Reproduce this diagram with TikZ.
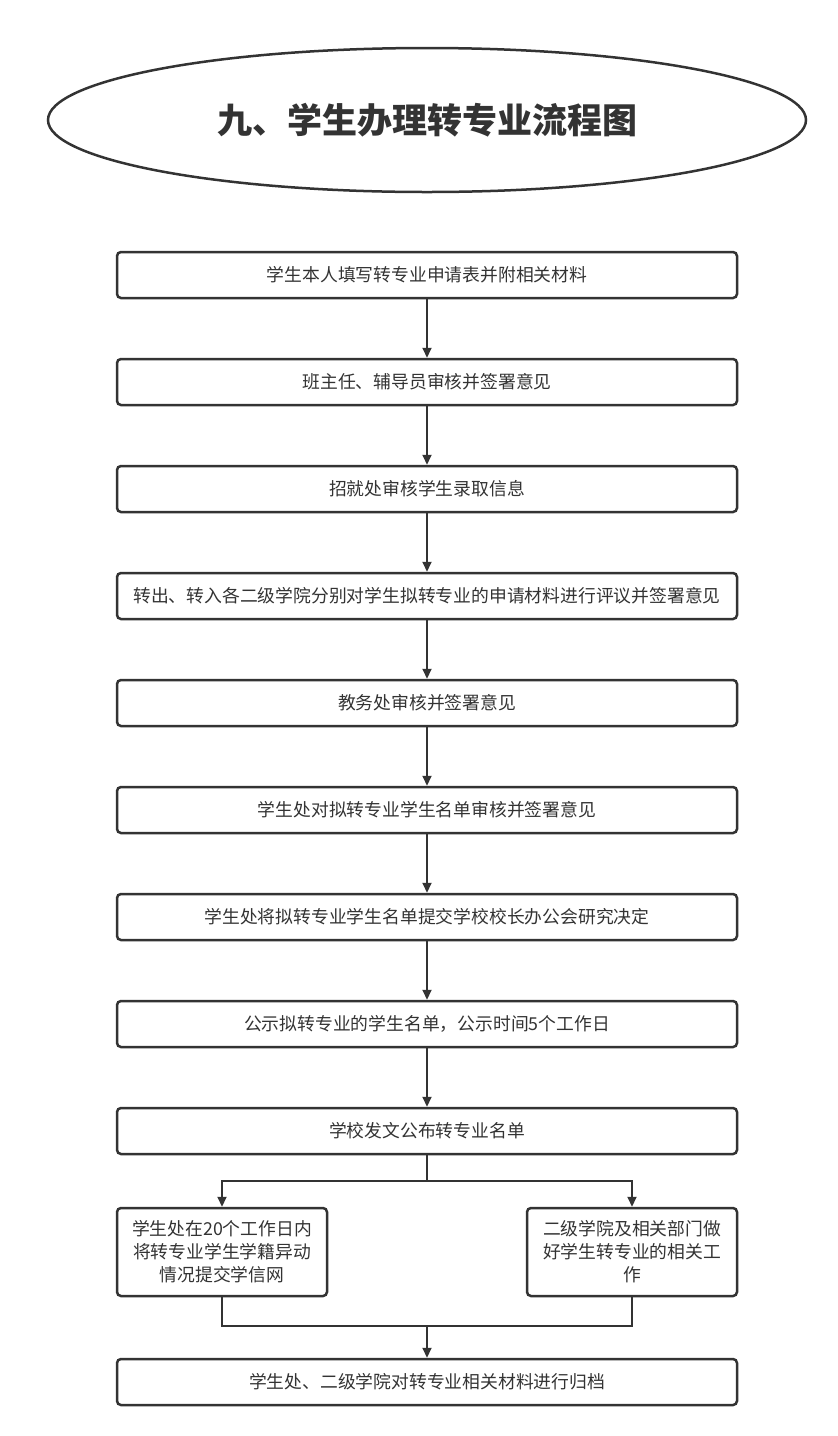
\documentclass[tikz,border=0pt]{standalone}
\usepackage{fontspec}
\newfontfamily\cjk{Noto Sans CJK SC}
\usetikzlibrary{arrows.meta,shapes.geometric}
\definecolor{ink}{HTML}{333333}
\begin{document}
\begin{tikzpicture}[x=1pt,y=-1pt,
 box/.style={draw=ink, line width=2.5pt, rounded corners=4pt, minimum width=620pt, minimum height=46pt, inner sep=0pt, font=\cjk\fontsize{17.8}{23}\selectfont, text=ink},
 sbox/.style={box, minimum width=210pt, minimum height=88pt, align=center},
 arr/.style={draw=ink, line width=2pt, -{Triangle[length=10pt,width=9pt]}},
 ln/.style={draw=ink, line width=2pt}]
\useasboundingbox (0,0) rectangle (838,1436);
\node[draw=ink, line width=2.5pt, ellipse, minimum width=758pt, minimum height=144pt, inner sep=0pt, font=\cjk\bfseries\fontsize{35}{40}\selectfont, text=ink] (title) at (427,120) {九、学生办理转专业流程图};
\node[box] (b1) at (427,275) {学生本人填写转专业申请表并附相关材料};
\node[box] (b2) at (427,382) {班主任、辅导员审核并签署意见};
\node[box] (b3) at (427,489) {招就处审核学生录取信息};
\node[box] (b4) at (427,596) {转出、转入各二级学院分别对学生拟转专业的申请材料进行评议并签署意见};
\node[box] (b5) at (427,703) {教务处审核并签署意见};
\node[box] (b6) at (427,810) {学生处对拟转专业学生名单审核并签署意见};
\node[box] (b7) at (427,917) {学生处将拟转专业学生名单提交学校校长办公会研究决定};
\node[box] (b8) at (427,1024) {公示拟转专业的学生名单，公示时间5个工作日};
\node[box] (b9) at (427,1131) {学校发文公布转专业名单};
\node[sbox] (L) at (222,1252) {学生处在20个工作日内\\将转专业学生学籍异动\\情况提交学信网};
\node[sbox] (R) at (632,1252) {二级学院及相关部门做\\好学生转专业的相关工\\作};
\node[box] (b10) at (427,1382) {学生处、二级学院对转专业相关材料进行归档};
\foreach \a/\b in {b1/b2,b2/b3,b3/b4,b4/b5,b5/b6,b6/b7,b7/b8,b8/b9}
  \draw[arr] (\a) -- (\b);
\coordinate (s) at (427,1181);
\coordinate (m) at (427,1326);
\draw[ln] (b9.south) -- (s);
\draw[arr] (s) -| (L.north);
\draw[arr] (s) -| (R.north);
\draw[ln] (L.south) |- (m);
\draw[ln] (R.south) |- (m);
\draw[arr] (m) -- (b10.north);
\end{tikzpicture}
\end{document}
